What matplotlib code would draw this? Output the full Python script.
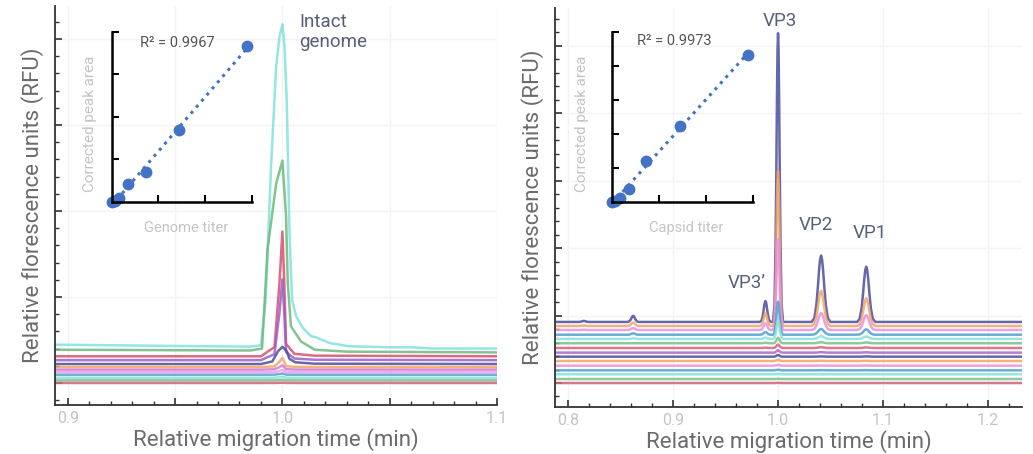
import numpy as np
import matplotlib.pyplot as plt
from matplotlib.ticker import FixedLocator, MultipleLocator

plt.rcParams['font.family'] = ['Roboto', 'DejaVu Sans']

# left panel: intact genome traces (bottom to top)
left_colors = ['#d6607c', '#74c28a', '#88e0dc', '#5aa2d2', '#eea0e6', '#d27ad6',
               '#f2a466', '#4c4c9e', '#9c5ec4', '#d8506e', '#6cba7e', '#80e2dc']
left_base = [0.0, 0.3, 0.6, 0.95, 1.25, 1.55, 1.85, 2.2, 2.65, 3.1, 3.55, 4.0]
left_height = [0.03, 0.05, 0.1, 0.15, 0.25, 0.5, 1.05, 2.0, 9.4, 14.5, 22.3, 37.7]
left_shape = ['narrow'] * 7 + ['bump', 'narrow', 'narrow', 'mid', 'wide']

# peak profiles (fraction of peak height)
wide_x = [0.894, 0.95, 0.985, 0.990, 0.9922, 0.9947, 0.9971, 0.9986, 1.0, 1.001, 1.002, 1.0033, 1.0045,
          1.0064, 1.0095, 1.0115, 1.0134, 1.0155, 1.0173, 1.022, 1.031, 1.05, 1.06, 1.07, 1.1]
wide_y = [0.012, 0.008, 0.006, 0.01, 0.15, 0.56, 0.87, 0.96, 1.0, 0.93, 0.77, 0.36, 0.15,
          0.10, 0.064, 0.05, 0.038, 0.035, 0.03, 0.017, 0.007, 0.004, 0.004, 0.0, 0.0]
mid_x = [0.894, 0.985, 0.9905, 0.9931, 0.9971, 1.0, 1.0017, 1.0025, 1.004, 1.0087, 1.015, 1.03, 1.1]
mid_y = [0.014, 0.01, 0.02, 0.54, 0.88, 1.0, 0.71, 0.36, 0.136, 0.057, 0.014, 0.004, 0.0]
narrow_x = [0.894, 0.99, 0.9963, 0.9986, 1.0, 1.0009, 1.0017, 1.0056, 1.015, 1.1]
narrow_y = [0.0, 0.0, 0.074, 0.58, 1.0, 0.58, 0.1, 0.02, 0.005, 0.0]
bump_x = [0.894, 0.99, 0.9953, 0.998, 1.0, 1.002, 1.0033, 1.006, 1.015, 1.1]
bump_y = [0.0, 0.0, 0.15, 0.75, 1.0, 0.75, 0.3, 0.1, 0.02, 0.0]
profiles = {'wide': (wide_x, wide_y), 'mid': (mid_x, mid_y),
            'narrow': (narrow_x, narrow_y), 'bump': (bump_x, bump_y)}

# right panel: capsid proteins (bottom to top)
right_colors = ['#d6607c', '#74c28a', '#88e0dc', '#4ea0cc', '#ea8ee2', '#f2a466', '#4c4c9e', '#a865c8',
                '#d6607c', '#74c28a', '#88e0dc', '#4ea0cc', '#ea8ee2', '#f2a466', '#4c4c9e']
right_base = [0.0, 0.59, 1.29, 1.88, 2.57, 3.26, 3.9, 4.5, 5.19, 5.89, 6.53, 7.16, 7.86, 8.46, 9.05]
peak_pos = [0.815, 0.862, 0.988, 1.0, 1.041, 1.084]
peak_fwhm = [0.004, 0.004, 0.0038, 0.0034, 0.0064, 0.0062]
# heights of the peaks above, per trace
right_heights = [
    [0, 0, 0, 0.02, 0, 0],
    [0, 0, 0, 0.03, 0, 0],
    [0, 0, 0, 0.05, 0.01, 0.01],
    [0, 0, 0, 0.08, 0.02, 0.02],
    [0, 0, 0, 0.12, 0.02, 0.02],
    [0, 0, 0, 0.18, 0.03, 0.03],
    [0, 0, 0, 0.25, 0.04, 0.04],
    [0, 0, 0, 0.35, 0.06, 0.05],
    [0, 0, 0.05, 0.5, 0.1, 0.08],
    [0, 0, 0.08, 0.8, 0.15, 0.12],
    [0, 0.1, 0.2, 2.8, 0.4, 0.35],
    [0, 0.2, 0.4, 4.9, 0.85, 0.8],
    [0.03, 0.3, 1.0, 13.5, 2.5, 2.2],
    [0.05, 0.5, 1.9, 23.0, 5.2, 4.1],
    [0.15, 0.9, 3.1, 42.8, 9.84, 8.2],
]
shape_u = [-1.4, -1.0, -0.7, -0.5, -0.3, -0.15, 0, 0.15, 0.3, 0.5, 0.7, 1.0, 1.4]
shape_f = [0, 0.06, 0.26, 0.5, 0.78, 0.94, 1, 0.94, 0.78, 0.5, 0.26, 0.06, 0]

# calibration insets
genome_titer = [0.0, 0.07, 0.16, 0.36, 0.73, 1.45, 2.89]
genome_area = [0.0, 0.02, 0.08, 0.42, 0.71, 1.69, 3.66]
capsid_titer = [0.0, 0.07, 0.18, 0.36, 0.73, 1.45, 2.9]
capsid_area = [0.0, 0.02, 0.11, 0.38, 1.19, 2.24, 4.32]

label_gray = '#6b6b6b'
annot = '#56607a'

fig = plt.figure(figsize=(10.33, 4.54), dpi=100)
ax1 = fig.add_axes([0.0532, 0.108, 0.4279, 0.879])
ax2 = fig.add_axes([0.5373, 0.1035, 0.4521, 0.879])

for i in range(len(left_base))[::-1]:
    px, py = profiles[left_shape[i]]
    y = left_base[i] + left_height[i] * np.array(py)
    ax1.plot(px, y, color=left_colors[i], lw=1.8, alpha=0.85)

xr = [0.7876]
for p, w in zip(peak_pos, peak_fwhm):
    xr += [p + u * w for u in shape_u]
xr += [1.2324]
for i in range(len(right_base))[::-1]:
    y = [0.0]
    for h in right_heights[i]:
        y += [h * f for f in shape_f]
    y += [0.0]
    ax2.plot(xr, right_base[i] + np.array(y), color=right_colors[i], lw=1.8, alpha=0.85)

ax1.set_xlim(0.894, 1.1)
ax1.set_ylim(-2.56, 43.84)
ax1.xaxis.set_major_locator(FixedLocator([0.9, 0.95, 1.0, 1.05, 1.1]))
ax1.set_xticklabels(['0.9', '', '1.0', '', '1.1'])
ax1.xaxis.set_minor_locator(MultipleLocator(0.01))
ax1.yaxis.set_major_locator(MultipleLocator(10))
ax1.yaxis.set_minor_locator(MultipleLocator(2))

ax2.set_xlim(0.7876, 1.2324)
ax2.set_ylim(-3.56, 55.6)
ax2.xaxis.set_major_locator(FixedLocator([0.8, 0.9, 1.0, 1.1, 1.2]))
ax2.set_xticklabels(['0.8', '0.9', '1.0', '1.1', '1.2'])
ax2.xaxis.set_minor_locator(MultipleLocator(0.02))
ax2.yaxis.set_major_locator(MultipleLocator(10))
ax2.yaxis.set_minor_locator(MultipleLocator(2))

for ax in (ax1, ax2):
    ax.set_yticklabels([])
    for s in ('top', 'right'):
        ax.spines[s].set_visible(False)
    for s in ('left', 'bottom'):
        ax.spines[s].set_color('#333333')
        ax.spines[s].set_linewidth(1.3)
    ax.tick_params(which='major', direction='in', length=5, width=1.2, color='#333333',
                   labelsize=11.5, labelcolor='#c4c4c4', pad=4)
    ax.tick_params(which='minor', direction='in', length=3, width=1.0, color='#333333')
    ax.grid(which='major', color='#f3f3f3', lw=1.0)
    ax.set_axisbelow(True)
    ax.set_xlabel('Relative migration time (min)', fontsize=16, color=label_gray, labelpad=2)
    ax.set_ylabel('Relative florescence units (RFU)', fontsize=16, color=label_gray, labelpad=4)

ax1.text(1.0079, 43.0, 'Intact\ngenome', fontsize=13.5, color=annot, ha='left', va='top', linespacing=1.1)
ax2.text(1.0019, 53.6, 'VP3', fontsize=13.5, color=annot, ha='center', va='center')
ax2.text(1.0362, 23.4, 'VP2', fontsize=13.5, color=annot, ha='center', va='center')
ax2.text(1.0876, 22.3, 'VP1', fontsize=13.5, color=annot, ha='center', va='center')
ax2.text(0.9705, 14.8, 'VP3’', fontsize=13.5, color=annot, ha='center', va='center')

in1 = fig.add_axes([0.1081, 0.5557, 0.1355, 0.3744])
in2 = fig.add_axes([0.5922, 0.5557, 0.1365, 0.3744])
insets = [(in1, genome_titer, genome_area, 4, 'Genome titer', 'R² = 0.9967', 0.202, 0.934, -0.155),
          (in2, capsid_titer, capsid_area, 5, 'Capsid titer', 'R² = 0.9973', 0.177, 0.945, -0.213)]
for ax, tx, ty, top, xl, r2, rx, ry, yx in insets:
    ax.set_facecolor('none')
    m, b = np.polyfit(tx, ty, 1)
    ax.plot([tx[0], tx[-1]], [m * tx[0] + b, m * tx[-1] + b], ':', color='#4472c4', lw=2.2, clip_on=False)
    ax.plot(tx, ty, 'o', color='#4472c4', ms=7.5, clip_on=False)
    ax.set_xlim(0, 3)
    ax.set_ylim(0, top)
    ax.set_xticks([1, 2, 3])
    ax.set_yticks(range(1, top + 1))
    ax.set_xticklabels([])
    ax.set_yticklabels([])
    for s in ('top', 'right'):
        ax.spines[s].set_visible(False)
    for s in ('left', 'bottom'):
        ax.spines[s].set_color('black')
        ax.spines[s].set_linewidth(1.8)
    ax.tick_params(direction='in', length=5, width=1.5, color='black')
    ax.text(rx, ry, r2, transform=ax.transAxes, fontsize=10.5, color='#555555', ha='left', va='center')
    ax.text(0.53, -0.153, xl, transform=ax.transAxes, fontsize=10.5, color='#c4c4c4', ha='center', va='center')
    ax.text(yx, 0.46, 'Corrected peak area', transform=ax.transAxes, fontsize=11, color='#c4c4c4',
            ha='center', va='center', rotation=90)

fig.savefig('out.png', dpi=100)
